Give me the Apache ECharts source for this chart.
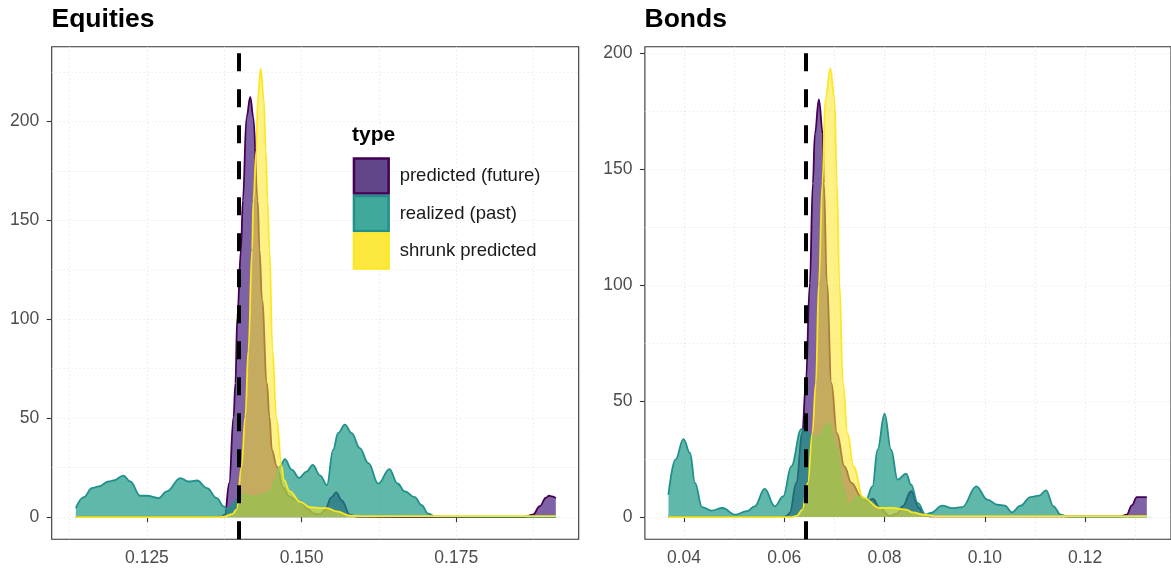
<!DOCTYPE html>
<html>
<head>
<meta charset="utf-8">
<script src="https://cdn.jsdelivr.net/npm/echarts@6/dist/echarts.min.js"></script>
<style>
html,body{margin:0;padding:0;background:#fff;}
#chart{width:1171px;height:570px;}
</style>
</head>
<body>
<div id="chart"></div>
<script>
// ---------- Data ----------
const seriesNames = ['predicted (future)', 'realized (past)', 'shrunk predicted'];

// Equities
const eqPredX = [0.1135,0.1360,0.1370,0.1376,0.1383,0.1390,0.1393,0.1396,0.1402,0.1405,0.1411,0.1417,0.1422,0.1429,0.1432,0.1436,0.1444,0.1448,0.1452,0.1460,0.1470,0.1480,0.1490,0.1500,0.1510,0.1520,0.1530,0.1538,0.1548,0.1556,0.1565,0.1578,0.1590,0.1700,0.1860,0.1874,0.1885,0.1895,0.1900,0.1905,0.1911];
const eqPredY = [0,0,0.3,1.2,17.2,50.8,67.7,101,135,160,202,212.3,202,160,135,110,67.7,50.8,34,25.6,15,10.5,8.8,7,4,1.8,1.5,3.7,10,12.5,8.5,1.2,0.3,0.1,0.1,1.2,5.5,9.8,10.8,10.5,9.6];

const eqRealX = [0.1135,0.1148,0.1161,0.1172,0.1188,0.1196,0.1212,0.1223,0.1239,0.1250,0.1269,0.1282,0.1304,0.1317,0.1331,0.1347,0.1363,0.1374,0.1381,0.1388,0.1395,0.1405,0.1422,0.1437,0.1449,0.1458,0.1465,0.1473,0.1484,0.1496,0.1508,0.1518,0.1530,0.1541,0.1551,0.1559,0.1570,0.1581,0.1594,0.1608,0.1624,0.1642,0.1655,0.1667,0.1683,0.1694,0.1705,0.1715,0.1800,0.1911];
const eqRealY = [4.6,10.1,14.7,15.5,18.0,18.5,21.0,18.0,10.8,10.8,9.6,13.0,19.7,18.0,18.5,14.7,9.6,5.4,3.7,6,9,11.3,10.4,11.2,13,19,25.6,29.3,24,19.8,23,26.4,21,16.2,34,42.4,46.7,42.4,34.9,27.3,16.9,24.3,17,13,10.1,6,1.7,0.4,0.2,0.2];

const eqShrX = [0.1135,0.1365,0.1375,0.1388,0.1395,0.1403,0.1409,0.1414,0.1420,0.1422,0.1427,0.1429,0.1434,0.1439,0.1442,0.1445,0.1448,0.1453,0.1459,0.1468,0.1471,0.1481,0.1498,0.1514,0.1530,0.1541,0.1557,0.1578,0.1600,0.1911];
const eqShrY = [0,0,0.3,1.5,3.9,25.6,50.8,84.5,135,160,185.5,210.6,226.6,210.6,185.5,160,135,84.5,50.8,25.6,18.9,13,7.6,5,4.6,4.6,2.9,0.7,0.5,0.5];

const eqThreshold = 0.1398;

// Bonds
const bdPredX = [0.0369,0.0600,0.0605,0.0611,0.0624,0.0636,0.0643,0.0651,0.0657,0.0661,0.0669,0.0677,0.0679,0.0685,0.0694,0.0705,0.0720,0.0734,0.0753,0.0765,0.0777,0.0790,0.0810,0.0825,0.0836,0.0853,0.0869,0.0879,0.0890,0.1270,0.1283,0.1293,0.1303,0.1323];
const bdPredY = [0,0,0.5,1.8,14.7,36.2,57.7,100.8,143.8,165,180,165,143.8,100.8,57.7,36.2,21.8,14.7,8.9,7,7.8,4,0.5,1.5,4.6,11.1,3.9,1.0,0.3,0.3,1.0,5,8.6,8.6];

const bdRealX = [0.0369,0.0383,0.0399,0.0412,0.0422,0.0436,0.0455,0.0477,0.0502,0.0525,0.0541,0.0561,0.0581,0.0598,0.0614,0.0634,0.0641,0.0657,0.0662,0.0667,0.0689,0.0704,0.0717,0.0727,0.0747,0.0763,0.0776,0.0786,0.0800,0.0813,0.0826,0.0843,0.0853,0.0866,0.0882,0.0892,0.0915,0.0935,0.0955,0.0983,0.1005,0.1025,0.1040,0.1054,0.1071,0.1091,0.1108,0.1122,0.1137,0.1151,0.1165,0.1323];
const bdRealY = [9.6,24.7,33.6,27.6,14.7,4.3,2.8,3.9,1.0,2.5,4.6,12.1,4.6,8.9,21.8,37.9,36.9,35,32.6,34.7,40.2,30.4,13.2,5.3,8.9,7.5,13.2,29,44.5,29,16.1,18.7,13.9,6.1,1.0,1.8,4.9,3.8,4.3,13.2,7.5,5.3,4.9,2.0,4.9,8.6,9.2,11.5,4.6,1.0,0.2,0.2];

const bdShrX = [0.0369,0.0615,0.0625,0.0636,0.0647,0.0656,0.0663,0.0669,0.0676,0.0682,0.0692,0.0700,0.0705,0.0710,0.0717,0.0726,0.0738,0.0757,0.0790,0.0816,0.0843,0.0856,0.0879,0.0900,0.1323];
const bdShrY = [0,0,0.5,3.2,14.7,36.2,57.7,100.8,143.8,180,193.3,180,143.8,100.8,57.7,36.2,21.8,8.5,3.9,3.9,3.2,2.0,1.0,0.4,0.4];

const bdThreshold = 0.0642;

// Axis ticks
const eqXTicks = [0.125, 0.150, 0.175];
const eqXMinor = [0.1125, 0.1375, 0.1625, 0.1875];
const bdXTicks = [0.04, 0.06, 0.08, 0.10, 0.12];
const bdXMinor = [0.05, 0.07, 0.09, 0.11, 0.13];
const yTicks = [0, 50, 100, 150, 200];
const yMinor = [25, 75, 125, 175, 225];

// ---------- Styles ----------
const FONT = 'Liberation Sans, Arial, Helvetica, sans-serif';
const lineColors = ['#440154', '#21908C', '#FDE725'];
const fillColors = ['rgba(60,16,120,0.66)', 'rgba(20,150,130,0.68)', 'rgba(253,231,37,0.55)'];
const keyColors = ['#62468a', '#40a99b', '#fde840'];

function zip(xs, ys) { return xs.map((x, i) => [x, ys[i]]); }

const panels = [
  { name: 'Equities', xmin: 0.1096, xmax: 0.1948, ymin: -11.2, ymax: 237.7,
    xt: eqXTicks, xm: eqXMinor, dec: 3, thr: eqThreshold,
    data: [zip(eqPredX, eqPredY), zip(eqRealX, eqRealY), zip(eqShrX, eqShrY)],
    left: 51.7, width: 527 },
  { name: 'Bonds', xmin: 0.03221, xmax: 0.13712, ymin: -9.6, ymax: 202.7,
    xt: bdXTicks, xm: bdXMinor, dec: 2, thr: bdThreshold,
    data: [zip(bdPredX, bdPredY), zip(bdRealX, bdRealY), zip(bdShrX, bdShrY)],
    left: 644.9, width: 527.9 }
];

const grids = [], xAxes = [], yAxes = [], series = [];
const gridLine = { show: true, lineStyle: { color: '#e2e2e2', width: 1, type: [1, 3] } };

panels.forEach((p, gi) => {
  grids.push({ left: p.left, top: 46.7, width: p.width, height: 492.6, show: true,
    borderColor: '#333333', borderWidth: 1.1, backgroundColor: 'transparent', containLabel: false });
  xAxes.push({ gridIndex: gi, type: 'value', min: p.xmin, max: p.xmax, position: 'bottom',
    axisLine: { show: false },
    axisTick: { show: true, length: 5, customValues: p.xt, lineStyle: { color: '#333333', width: 1.1 } },
    axisLabel: { show: true, customValues: p.xt, margin: 10, color: '#4d4d4d', fontSize: 17.5, fontFamily: FONT,
      formatter: v => Number(v).toFixed(p.dec) },
    splitLine: gridLine });
  yAxes.push({ gridIndex: gi, type: 'value', min: p.ymin, max: p.ymax, position: 'left',
    axisLine: { show: false },
    axisTick: { show: true, length: 5, customValues: yTicks, lineStyle: { color: '#333333', width: 1.1 } },
    axisLabel: { show: true, customValues: yTicks, margin: 12.5, color: '#4d4d4d', fontSize: 17.5, fontFamily: FONT },
    splitLine: gridLine });
});
panels.forEach((p, gi) => {
  xAxes.push({ gridIndex: gi, type: 'value', min: p.xmin, max: p.xmax, position: 'bottom',
    axisLine: { show: false }, axisLabel: { show: false },
    axisTick: { show: false, customValues: p.xm }, splitLine: gridLine });
  yAxes.push({ gridIndex: gi, type: 'value', min: p.ymin, max: p.ymax, position: 'left',
    axisLine: { show: false }, axisLabel: { show: false },
    axisTick: { show: false, customValues: yMinor }, splitLine: gridLine });
});

panels.forEach((p, gi) => {
  seriesNames.forEach((nm, si) => {
    const s = {
      name: nm, type: 'line', xAxisIndex: gi, yAxisIndex: gi,
      data: p.data[si], showSymbol: false, symbol: 'none',
      smooth: 0.4, smoothMonotone: 'x',
      lineStyle: { color: lineColors[si], width: 1.8 },
      itemStyle: { color: lineColors[si] },
      areaStyle: { color: fillColors[si], opacity: 1, origin: 'auto' },
      z: 2 + si, silent: true
    };
    if (si === 2) {
      s.markLine = {
        silent: true, symbol: ['none', 'none'], z: 20, animation: false, precision: 6,
        label: { show: false },
        lineStyle: { color: '#000000', width: 4, type: [18, 18] },
        emphasis: { disabled: true },
        data: [{ xAxis: p.thr }]
      };
    }
    series.push(s);
  });
});

const option = {
  animation: false,
  backgroundColor: '#ffffff',
  title: [
    { text: 'Equities', left: 51.5, top: 6.5, padding: 0,
      textStyle: { fontSize: 26.5, fontWeight: 'bold', color: '#000', fontFamily: FONT } },
    { text: 'Bonds', left: 644.5, top: 6.5, padding: 0,
      textStyle: { fontSize: 26.5, fontWeight: 'bold', color: '#000', fontFamily: FONT } },
    { text: 'type', left: 352, top: 125, padding: 0,
      textStyle: { fontSize: 21, fontWeight: 'bold', color: '#000', fontFamily: FONT } }
  ],
  legend: {
    orient: 'vertical', left: 352.7, top: 157.3, padding: 0,
    itemWidth: 34.7, itemHeight: 35, itemGap: 0, icon: 'rect', selectedMode: false,
    textStyle: { fontSize: 18.5, color: '#1a1a1a', fontFamily: FONT, padding: [0, 0, 0, 6] },
    data: seriesNames.map((nm, i) => ({
      name: nm, icon: 'rect',
      itemStyle: { color: keyColors[i], borderColor: lineColors[i], borderWidth: 2.5 }
    }))
  },
  grid: grids,
  xAxis: xAxes,
  yAxis: yAxes,
  series: series
};

const chart = echarts.init(document.getElementById('chart'), null, { renderer: 'canvas' });
chart.setOption(option);
</script>
</body>
</html>
